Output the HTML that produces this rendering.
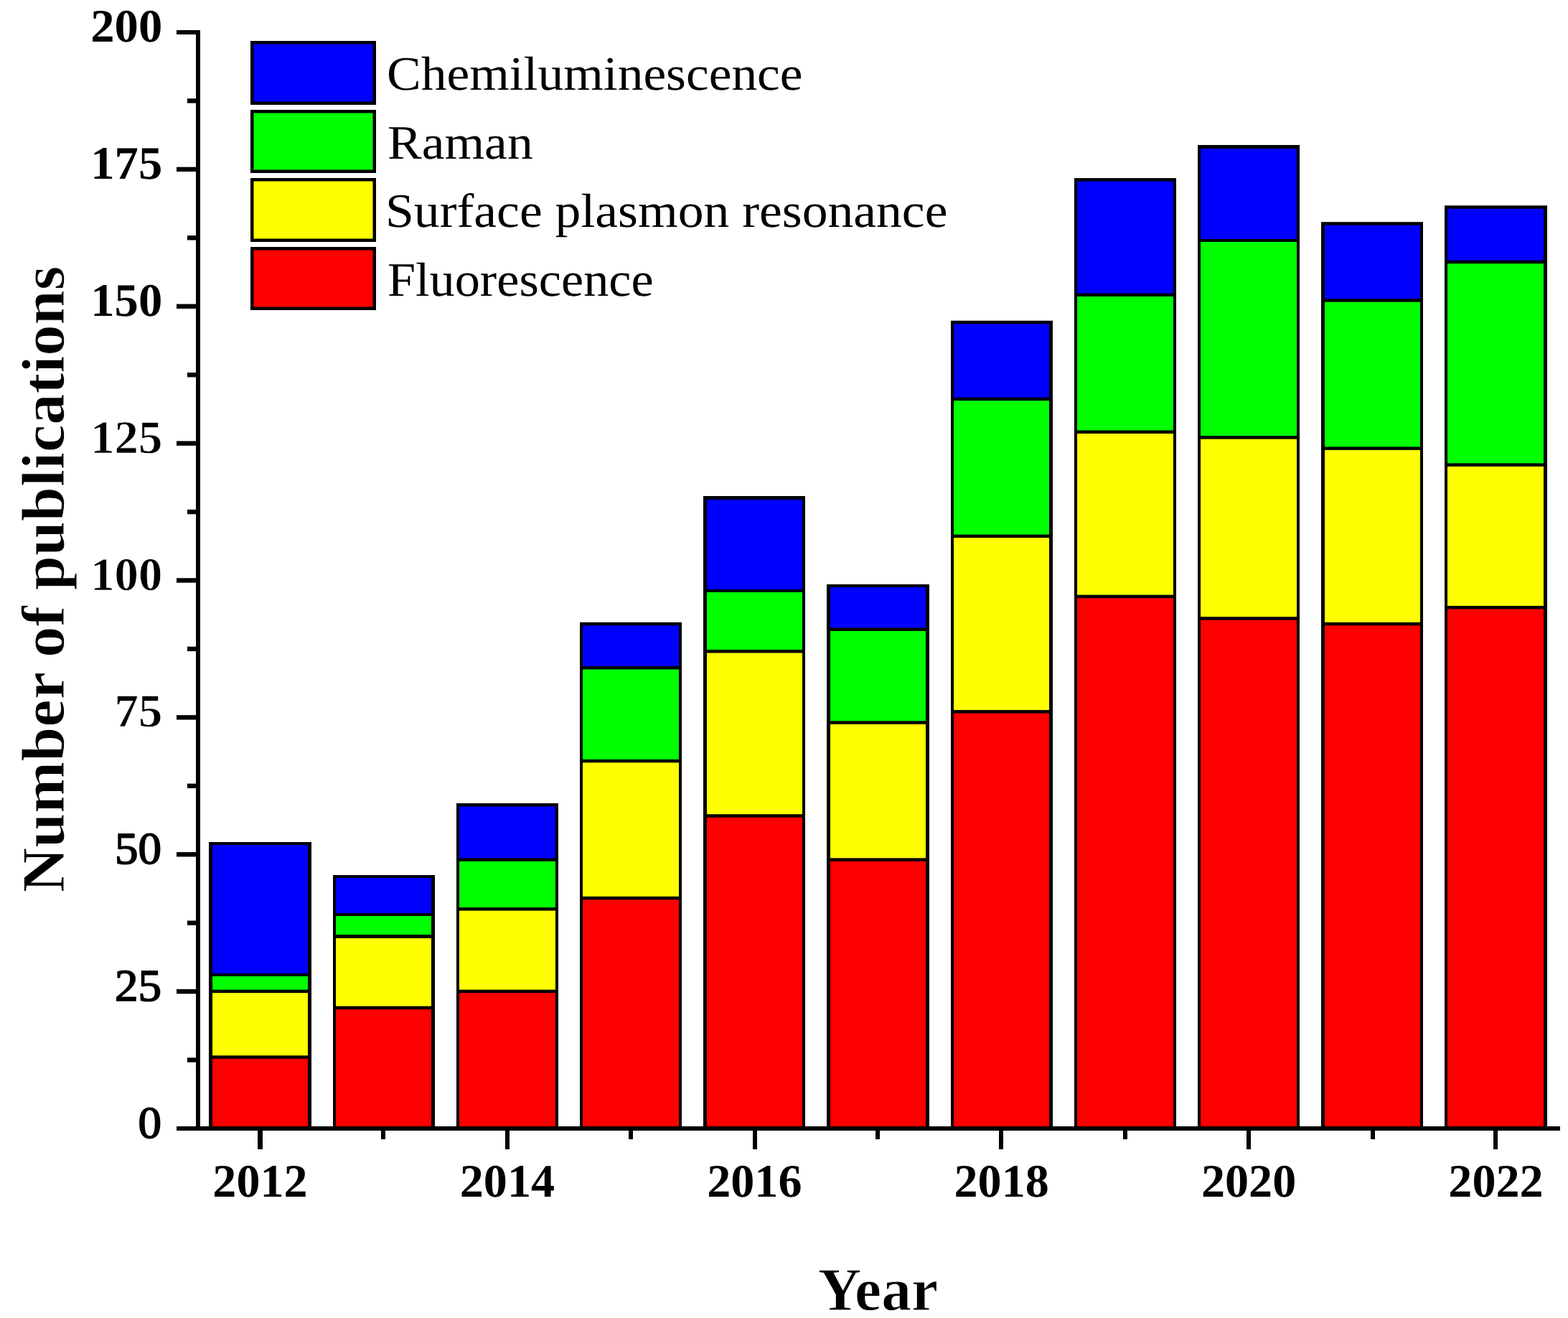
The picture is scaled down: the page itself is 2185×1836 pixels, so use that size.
<!DOCTYPE html>
<html lang="en">
<head>
<meta charset="utf-8">
<title>Number of publications per year</title>
<style>
html,body{margin:0;padding:0;background:#fff;}
body{width:2185px;height:1836px;overflow:hidden;}
svg{display:block;}
text{font-family:"Liberation Serif",serif;fill:#000;text-rendering:geometricPrecision;}
.b{font-weight:bold;}
.m{stroke:#fff;stroke-width:0.7;}
.t{stroke:#fff;stroke-width:1;}
.lg rect{stroke:#000;stroke-width:4.5;}
</style>
</head>
<body>
<svg width="2185" height="1836" viewBox="0 0 2185 1836">
<rect x="0" y="0" width="2185" height="1836" fill="#ffffff"/>

<g class="bar">
<rect x="291" y="1173" width="143" height="399" fill="#000"/>
<rect x="296" y="1474.84" width="133" height="94.16" fill="#ff0000"/>
<rect x="296" y="1383.18" width="133" height="87.16" fill="#ffff00"/>
<rect x="296" y="1360" width="133" height="18.68" fill="#00ff00"/>
<rect x="296" y="1177" width="133" height="179" fill="#0000ff"/>
<rect x="464" y="1219" width="142" height="353" fill="#000"/>
<rect x="468" y="1406.09" width="133" height="162.91" fill="#ff0000"/>
<rect x="468" y="1307" width="133" height="94.59" fill="#ffff00"/>
<rect x="468" y="1276" width="133" height="26" fill="#00ff00"/>
<rect x="468" y="1223" width="133" height="49" fill="#0000ff"/>
<rect x="636" y="1118.95" width="142" height="453.05" fill="#000"/>
<rect x="640" y="1383.18" width="134" height="185.82" fill="#ff0000"/>
<rect x="640" y="1268.59" width="134" height="110.09" fill="#ffff00"/>
<rect x="640" y="1199.84" width="134" height="64.25" fill="#00ff00"/>
<rect x="640" y="1123.45" width="134" height="71.89" fill="#0000ff"/>
<rect x="808" y="866.86" width="142" height="705.14" fill="#000"/>
<rect x="812" y="1253.31" width="134" height="315.69" fill="#ff0000"/>
<rect x="812" y="1062.34" width="134" height="186.47" fill="#ffff00"/>
<rect x="812" y="932.47" width="134" height="125.37" fill="#00ff00"/>
<rect x="812" y="871.36" width="134" height="56.61" fill="#0000ff"/>
<rect x="980" y="691" width="142" height="881" fill="#000"/>
<rect x="985" y="1138.73" width="133" height="430.27" fill="#ff0000"/>
<rect x="985" y="909.56" width="133" height="224.67" fill="#ffff00"/>
<rect x="985" y="825" width="133" height="80.06" fill="#00ff00"/>
<rect x="985" y="696" width="133" height="125" fill="#0000ff"/>
<rect x="1152" y="814" width="143" height="758" fill="#000"/>
<rect x="1157" y="1199.84" width="133" height="369.16" fill="#ff0000"/>
<rect x="1157" y="1008.86" width="133" height="186.48" fill="#ffff00"/>
<rect x="1157" y="879" width="133" height="125.36" fill="#00ff00"/>
<rect x="1157" y="818" width="133" height="56.5" fill="#0000ff"/>
<rect x="1325" y="446.72" width="142" height="1125.28" fill="#000"/>
<rect x="1329" y="993.59" width="133" height="575.41" fill="#ff0000"/>
<rect x="1329" y="749.14" width="133" height="239.95" fill="#ffff00"/>
<rect x="1329" y="558.16" width="133" height="186.48" fill="#00ff00"/>
<rect x="1329" y="451.22" width="133" height="102.44" fill="#0000ff"/>
<rect x="1497" y="248.1" width="142" height="1323.9" fill="#000"/>
<rect x="1501" y="833.17" width="134" height="735.83" fill="#ff0000"/>
<rect x="1501" y="604" width="134" height="224.67" fill="#ffff00"/>
<rect x="1501" y="413.02" width="134" height="186.48" fill="#00ff00"/>
<rect x="1501" y="252.6" width="134" height="155.92" fill="#0000ff"/>
<rect x="1669" y="202" width="142" height="1370" fill="#000"/>
<rect x="1673" y="863.72" width="134" height="705.28" fill="#ff0000"/>
<rect x="1673" y="611.64" width="134" height="247.58" fill="#ffff00"/>
<rect x="1673" y="337" width="134" height="270.14" fill="#00ff00"/>
<rect x="1673" y="207" width="134" height="126" fill="#0000ff"/>
<rect x="1841" y="309.22" width="142" height="1262.78" fill="#000"/>
<rect x="1846" y="871.36" width="133" height="697.64" fill="#ff0000"/>
<rect x="1846" y="626.91" width="133" height="239.95" fill="#ffff00"/>
<rect x="1846" y="420.66" width="133" height="201.75" fill="#00ff00"/>
<rect x="1846" y="313.72" width="133" height="102.44" fill="#0000ff"/>
<rect x="2013" y="286.3" width="143" height="1285.7" fill="#000"/>
<rect x="2017" y="848.45" width="134" height="720.55" fill="#ff0000"/>
<rect x="2017" y="649.83" width="134" height="194.12" fill="#ffff00"/>
<rect x="2017" y="367.19" width="134" height="278.14" fill="#00ff00"/>
<rect x="2017" y="290.8" width="134" height="71.89" fill="#0000ff"/>
</g>
<g class="ax" fill="#000">
<rect x="246" y="1569" width="1928" height="6" fill="#000"/>
<rect x="273" y="42" width="6" height="1533" fill="#000"/>
<rect x="261" y="1473.36" width="15" height="6.4" fill="#000"/>
<rect x="246" y="1377.92" width="30" height="6.41" fill="#000"/>
<rect x="261" y="1282.49" width="15" height="6.4" fill="#000"/>
<rect x="246" y="1187.05" width="30" height="6.4" fill="#000"/>
<rect x="261" y="1091.61" width="15" height="6.4" fill="#000"/>
<rect x="246" y="996.17" width="30" height="6.41" fill="#000"/>
<rect x="261" y="900.74" width="15" height="6.4" fill="#000"/>
<rect x="246" y="805.3" width="30" height="6.4" fill="#000"/>
<rect x="261" y="709.86" width="15" height="6.4" fill="#000"/>
<rect x="246" y="614.42" width="30" height="6.41" fill="#000"/>
<rect x="261" y="518.99" width="15" height="6.4" fill="#000"/>
<rect x="246" y="423.55" width="30" height="6.4" fill="#000"/>
<rect x="261" y="328.11" width="15" height="6.4" fill="#000"/>
<rect x="246" y="232.68" width="30" height="6.39" fill="#000"/>
<rect x="261" y="137.24" width="15" height="6.4" fill="#000"/>
<rect x="246" y="42" width="30" height="6" fill="#000"/>
<rect x="359" y="1572" width="7" height="29" fill="#000"/>
<rect x="531" y="1572" width="6" height="15" fill="#000"/>
<rect x="704" y="1572" width="6" height="29" fill="#000"/>
<rect x="876" y="1572" width="6" height="15" fill="#000"/>
<rect x="1049" y="1572" width="6" height="29" fill="#000"/>
<rect x="1220" y="1572" width="6" height="15" fill="#000"/>
<rect x="1392" y="1572" width="6" height="29" fill="#000"/>
<rect x="1565" y="1572" width="6" height="15" fill="#000"/>
<rect x="1737" y="1572" width="6" height="29" fill="#000"/>
<rect x="1910" y="1572" width="6" height="15" fill="#000"/>
<rect x="2081" y="1572" width="6" height="29" fill="#000"/>
</g>
<text stroke="#000" stroke-width="1.8" stroke-linejoin="round" transform="translate(225.00,1585.10) scale(1.0000,0.9650)" font-size="65" text-anchor="end">0</text>
<text stroke="#000" stroke-width="1.8" stroke-linejoin="round" transform="translate(225.00,1394.22) scale(1.0000,0.9650)" font-size="65" text-anchor="end">25</text>
<text stroke="#000" stroke-width="1.8" stroke-linejoin="round" transform="translate(225.00,1203.35) scale(1.0000,0.9650)" font-size="65" text-anchor="end">50</text>
<text class="b m" transform="translate(226.20,1012.48) scale(1.0250,1.0000)" font-size="65" text-anchor="end">75</text>
<text class="b m" transform="translate(226.20,821.60) scale(1.0250,1.0000)" font-size="65" text-anchor="end">100</text>
<text class="b m" transform="translate(226.20,630.73) scale(1.0250,1.0000)" font-size="65" text-anchor="end">125</text>
<text class="b" transform="translate(226.20,439.85) scale(1.0250,1.0000)" font-size="65" text-anchor="end">150</text>
<text class="b" transform="translate(226.20,248.97) scale(1.0250,1.0000)" font-size="65" text-anchor="end">175</text>
<text class="b" transform="translate(226.20,58.10) scale(1.0250,1.0000)" font-size="65" text-anchor="end">200</text>
<text class="b" transform="translate(362.50,1666.50) scale(1.0180,1.0000)" font-size="65" text-anchor="middle">2012</text>
<text class="b" transform="translate(706.90,1666.50) scale(1.0180,1.0000)" font-size="65" text-anchor="middle">2014</text>
<text class="b" transform="translate(1051.30,1666.50) scale(1.0180,1.0000)" font-size="65" text-anchor="middle">2016</text>
<text class="b" transform="translate(1395.70,1666.50) scale(1.0180,1.0000)" font-size="65" text-anchor="middle">2018</text>
<text class="b" transform="translate(1740.10,1666.50) scale(1.0180,1.0000)" font-size="65" text-anchor="middle">2020</text>
<text class="b" transform="translate(2084.50,1666.50) scale(1.0180,1.0000)" font-size="65" text-anchor="middle">2022</text>
<text class="b t" transform="translate(1223.50,1825.10) scale(0.9820,1.0000)" font-size="85" text-anchor="middle">Year</text>
<text class="b t" transform="translate(88.50,807.00) rotate(-90) scale(1.0170,1.0000)" font-size="85" text-anchor="middle">Number of publications</text>
<g class="lg">
<rect x="351.25" y="59.25" width="170.5" height="84.5" fill="#0000ff"/>
<rect x="351.25" y="155.25" width="170.5" height="83.5" fill="#00ff00"/>
<rect x="351.25" y="250.25" width="170.5" height="84.5" fill="#ffff00"/>
<rect x="351.25" y="346.25" width="170.5" height="83.5" fill="#ff0000"/>
</g>
<text transform="translate(539.00,125.20) scale(1.0830,1.0120)" font-size="66" text-anchor="start">Chemiluminescence</text>
<text transform="translate(540.00,220.90) scale(1.0840,1.0120)" font-size="66" text-anchor="start">Raman</text>
<text transform="translate(537.00,316.00) scale(1.0850,1.0120)" font-size="66" text-anchor="start">Surface plasmon resonance</text>
<text transform="translate(540.00,412.00) scale(1.0645,1.0120)" font-size="66" text-anchor="start">Fluorescence</text>
</svg>
</body>
</html>
